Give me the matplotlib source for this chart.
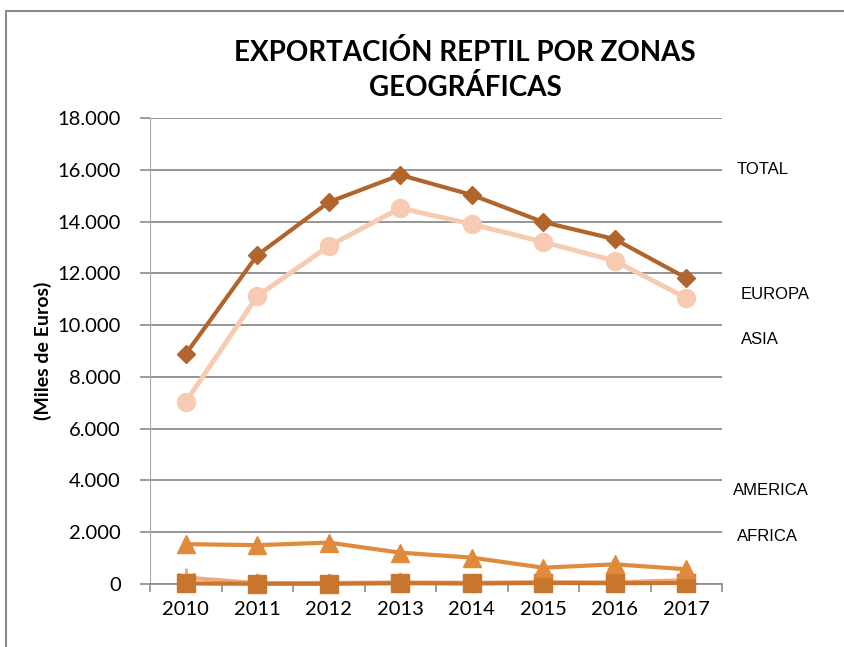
import matplotlib
matplotlib.use("Agg")
import matplotlib.pyplot as plt
from matplotlib.patches import Rectangle
from matplotlib.ticker import FuncFormatter, FixedLocator

# datos (miles de euros)
years = ["2010", "2011", "2012", "2013", "2014", "2015", "2016", "2017"]
total = [8880, 12700, 14750, 15800, 15030, 13980, 13320, 11820]
europa = [7030, 11120, 13050, 14520, 13900, 13210, 12480, 11050]
asia = [1540, 1500, 1600, 1210, 1020, 630, 760, 570]
america = [250, 30, 40, 60, 50, 70, 60, 150]
africa = [20, 10, 10, 30, 20, 40, 30, 40]

label_names = ["TOTAL", "EUROPA", "ASIA", "AMERICA", "AFRICA"]
label_y = [16000, 11200, 9450, 3600, 1850]
label_dx = [0.0, 0.008, 0.008, -0.005, 0.002]

plt.rcParams["font.family"] = ["Lato", "DejaVu Sans"]

fig = plt.figure(figsize=(8.44, 6.47), dpi=100)
fig.patches.append(Rectangle((6 / 844, -0.1), 1.2, 1 - 11 / 647 + 0.1,
                             transform=fig.transFigure, fill=False,
                             edgecolor="#8a8a8a", linewidth=1.5))

ax = fig.add_axes([150 / 844, 1 - 584 / 647, 572 / 844, 466 / 647])
x = list(range(len(years)))

ax.plot(x, america, color="#f2a878", lw=3, marker=(6, 2, 0), ms=14,
        mew=1.5, zorder=2, clip_on=False)
ax.plot(x, africa, color="#c8752f", lw=3, marker="s", ms=13.5, zorder=3, clip_on=False)
ax.plot(x, asia, color="#e08a3c", lw=3, marker="^", ms=13, zorder=3, clip_on=False)
ax.plot(x, europa, color="#f7cbb2", lw=3.5, marker="o", ms=13, zorder=3)
ax.plot(x, total, color="#b0652d", lw=3, marker="D", ms=9.5, zorder=4)

ax.set_xlim(-0.5, 7.5)
ax.set_ylim(0, 18000)
ax.set_yticks(range(0, 18001, 2000))
ax.yaxis.set_major_formatter(FuncFormatter(lambda v, p: f"{int(v):,}".replace(",", ".")))
ax.set_xticks(x)
ax.set_xticklabels(years)
ax.xaxis.set_minor_locator(FixedLocator([i - 0.5 for i in range(9)]))
ax.tick_params(axis="x", which="major", length=0, labelsize=14.5, pad=12)
ax.tick_params(axis="x", which="minor", length=6, color="#8c8c8c", width=1.2)
ax.tick_params(axis="y", length=7, color="#8c8c8c", width=1.2, labelsize=14.5, pad=14)

ax.grid(axis="y", color="#8c8c8c", linewidth=1.3)
ax.set_axisbelow(True)
for s in ["top", "right"]:
    ax.spines[s].set_visible(False)
ax.spines["left"].set_color("#a8a8a8")
ax.spines["bottom"].set_color("#8c8c8c")
ax.spines["bottom"].set_linewidth(1.3)

ax.set_ylabel("(Miles de Euros)", fontsize=14, fontweight="bold")
ax.yaxis.set_label_coords(-(150 - 52) / 572, 0.5)

fig.text(465 / 844, 1 - 70 / 647, "EXPORTACIÓN REPTIL POR ZONAS\nGEOGRÁFICAS",
         ha="center", va="center", fontsize=20, fontweight="bold", linespacing=1.35)

trans = ax.get_yaxis_transform()
for name, yv, dx in zip(label_names, label_y, label_dx):
    ax.text(1.025 + dx, yv, name, transform=trans, ha="left", va="center",
            fontsize=12, family=["Liberation Sans", "DejaVu Sans"], clip_on=False)

fig.savefig("out.png", dpi=100)
